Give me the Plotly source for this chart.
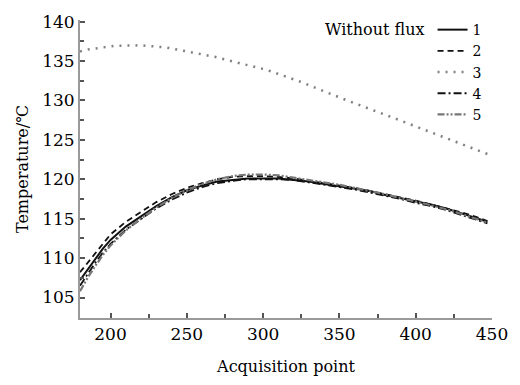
import plotly.graph_objects as go

# Acquisition points
x_low = [180, 185, 190, 195, 200, 210, 220, 230, 240, 250, 260, 270, 280, 290, 300,
         310, 320, 330, 340, 350, 360, 370, 380, 390, 400, 410, 420, 430, 440, 447]

s1 = [107.2, 108.5, 109.9, 111.2, 112.3, 114.0, 115.3, 116.6, 117.7, 118.6, 119.2, 119.7, 119.9, 120.1, 120.1,
      120.1, 119.9, 119.7, 119.4, 119.1, 118.8, 118.5, 118.0, 117.6, 117.2, 116.8, 116.3, 115.7, 115.1, 114.6]
s2 = [108.2, 109.4, 110.7, 111.9, 113.0, 114.6, 115.9, 117.1, 118.1, 118.9, 119.5, 120.0, 120.3, 120.4, 120.4,
      120.3, 120.1, 119.8, 119.5, 119.2, 118.9, 118.5, 118.1, 117.7, 117.3, 116.8, 116.3, 115.8, 115.2, 114.7]
s4 = [106.5, 108.0, 109.4, 110.7, 111.8, 113.6, 115.0, 116.3, 117.4, 118.3, 119.0, 119.5, 119.8, 120.0, 120.0,
      120.0, 119.9, 119.6, 119.3, 119.0, 118.7, 118.3, 117.9, 117.5, 117.0, 116.6, 116.1, 115.5, 114.9, 114.4]
s5 = [105.8, 107.5, 109.0, 110.4, 111.6, 113.5, 115.0, 116.4, 117.6, 118.6, 119.4, 120.0, 120.4, 120.6, 120.6,
      120.5, 120.2, 119.9, 119.6, 119.3, 118.9, 118.5, 118.1, 117.6, 117.2, 116.7, 116.2, 115.6, 115.0, 114.5]

x_s3 = [180, 183, 202, 220, 237, 254, 269, 285, 302, 324, 343, 355, 388, 420, 447]
s3 = [136.2, 136.4, 136.9, 137.0, 136.7, 136.1, 135.5, 134.7, 133.9, 132.4, 130.9, 130.0, 127.6, 125.2, 123.2]

names = ["1", "2", "3", "4", "5"]
legend_title = "Without flux"
x_title = "Acquisition point"
y_title = "Temperature/℃"

FONT = "DejaVu Serif, Liberation Serif, serif"
INK = "#000000"

fig = go.Figure()
fig.add_trace(go.Scatter(x=x_low, y=s1, name=names[0], mode="lines",
                         line=dict(color="#111111", width=2, dash="solid")))
fig.add_trace(go.Scatter(x=x_low, y=s2, name=names[1], mode="lines",
                         line=dict(color="#111111", width=1.8, dash="6px,4px")))
fig.add_trace(go.Scatter(x=x_s3, y=s3, name=names[2], mode="lines",
                         line=dict(color="#808080", width=2.5, dash="2px,6px")))
fig.add_trace(go.Scatter(x=x_low, y=s4, name=names[3], mode="lines",
                         line=dict(color="#111111", width=1.8, dash="8px,3px,2px,3px")))
fig.add_trace(go.Scatter(x=x_low, y=s5, name=names[4], mode="lines",
                         line=dict(color="#777777", width=2.2, dash="7px,2px,2px,2px,2px,2px")))

axis_common = dict(
    showline=True, linecolor="#9a9a9a", linewidth=2,
    ticks="inside", ticklen=5, tickwidth=1.5, tickcolor="#555555",
    showgrid=False, zeroline=False, mirror=False,
    tickfont=dict(family=FONT, size=17, color=INK),
)

fig.update_xaxes(range=[180, 450.01], tick0=0, dtick=50,
                 minor=dict(ticks="inside", dtick=25, ticklen=4, tickcolor="#555555"),
                 title=dict(text=x_title, font=dict(family=FONT, size=16, color=INK), standoff=17),
                 **axis_common)
fig.update_yaxes(range=[102.4, 140.2], tick0=0, dtick=5,
                 minor=dict(ticks="inside", dtick=2.5, ticklen=4, tickcolor="#555555"),
                 title=dict(text=y_title, font=dict(family=FONT, size=16, color=INK), standoff=10),
                 **axis_common)

fig.update_layout(
    width=520, height=385,
    margin=dict(l=80, r=24, t=13, b=63),
    paper_bgcolor="white", plot_bgcolor="white",
    font=dict(family=FONT, color=INK),
    legend=dict(
        title=dict(text=legend_title, side="left", font=dict(family=FONT, size=16, color=INK)),
        x=0.59, y=1.02, xanchor="left", yanchor="top",
        bgcolor="rgba(0,0,0,0)",
        font=dict(family=FONT, size=14, color=INK),
        itemwidth=30,
    ),
)

fig.write_html("out.html")
